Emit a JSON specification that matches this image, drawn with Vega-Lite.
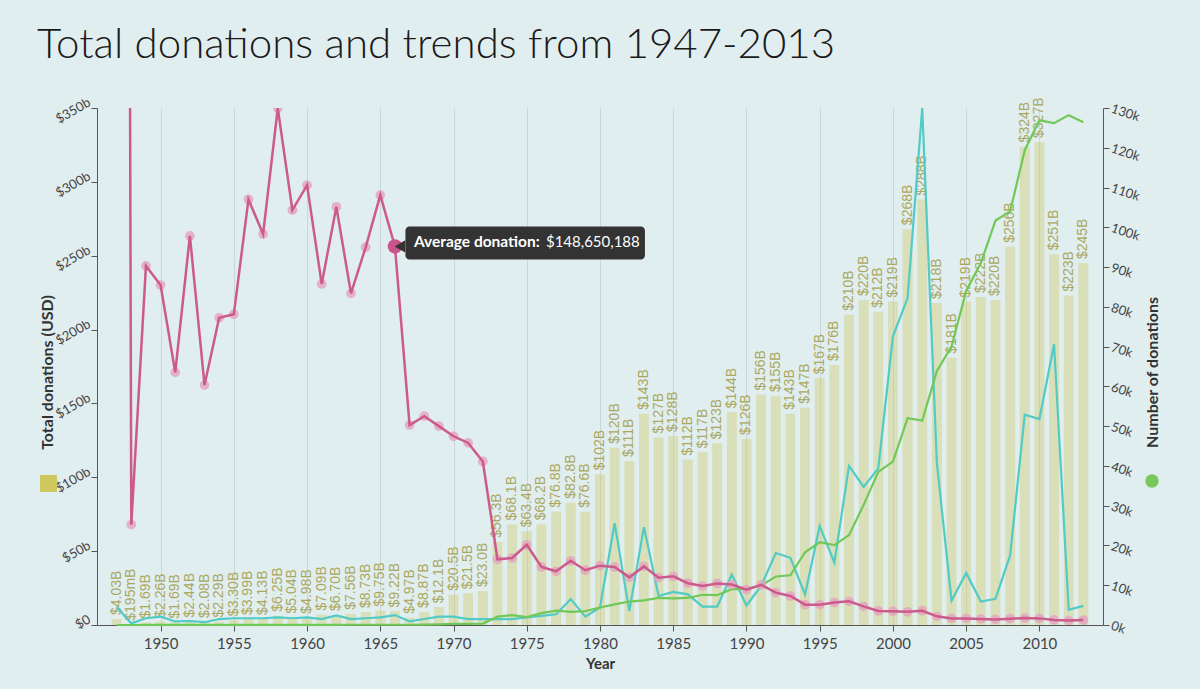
{
  "$schema": "https://vega.github.io/schema/vega-lite/v6.json",
  "description": "Total donations and trends from 1947-2013",
  "width": 1006,
  "height": 517,
  "autosize": {"type": "none"},
  "padding": {"left": 97, "top": 108, "right": 97, "bottom": 64},
  "title": {
    "text": "Total donations and trends from 1947-2013",
    "anchor": "start",
    "frame": "group",
    "dx": -60,
    "dy": 52,
    "offset": 48,
    "baseline": "alphabetic",
    "font": "Lato",
    "fontSize": 42,
    "fontWeight": 300,
    "color": "#1a1a1a"
  },
  "config": {
    "font": "Lato",
    "background": "#e1eef0",
    "view": {"stroke": null}
  },
  "datasets": {
    "years": [
      {"year": 1947, "total": 4.03, "label": "$4.03B", "count": 0.002, "other": 4.6, "avg": 2015},
      {"year": 1948, "total": 0.195, "label": "$195mB", "count": 0.005, "other": 0.4, "avg": 39.4},
      {"year": 1949, "total": 1.69, "label": "$1.69B", "count": 0.012, "other": 1.7, "avg": 141},
      {"year": 1950, "total": 2.26, "label": "$2.26B", "count": 0.017, "other": 2.1, "avg": 133.5},
      {"year": 1951, "total": 1.69, "label": "$1.69B", "count": 0.017, "other": 0.9, "avg": 99.2},
      {"year": 1952, "total": 2.44, "label": "$2.44B", "count": 0.016, "other": 1.0, "avg": 152.8},
      {"year": 1953, "total": 2.08, "label": "$2.08B", "count": 0.022, "other": 0.7, "avg": 94.2},
      {"year": 1954, "total": 2.29, "label": "$2.29B", "count": 0.019, "other": 1.5, "avg": 120.6},
      {"year": 1955, "total": 3.30, "label": "$3.30B", "count": 0.027, "other": 1.7, "avg": 122},
      {"year": 1956, "total": 3.99, "label": "$3.99B", "count": 0.024, "other": 1.7, "avg": 167.1},
      {"year": 1957, "total": 4.13, "label": "$4.13B", "count": 0.027, "other": 1.7, "avg": 153.5},
      {"year": 1958, "total": 6.25, "label": "$6.25B", "count": 0.031, "other": 1.9, "avg": 202.9},
      {"year": 1959, "total": 5.04, "label": "$5.04B", "count": 0.031, "other": 1.7, "avg": 162.9},
      {"year": 1960, "total": 4.98, "label": "$4.98B", "count": 0.029, "other": 1.9, "avg": 172.7},
      {"year": 1961, "total": 7.09, "label": "$7.09B", "count": 0.053, "other": 1.5, "avg": 133.9},
      {"year": 1962, "total": 6.70, "label": "$6.70B", "count": 0.041, "other": 2.4, "avg": 164.2},
      {"year": 1963, "total": 7.56, "label": "$7.56B", "count": 0.058, "other": 1.5, "avg": 130.2},
      {"year": 1964, "total": 8.73, "label": "$8.73B", "count": 0.059, "other": 1.7, "avg": 148.3},
      {"year": 1965, "total": 9.75, "label": "$9.75B", "count": 0.058, "other": 1.9, "avg": 168.8},
      {"year": 1966, "total": 9.22, "label": "$9.22B", "count": 0.062, "other": 2.5, "avg": 148.65},
      {"year": 1967, "total": 4.97, "label": "$4.97B", "count": 0.063, "other": 0.9, "avg": 78.5},
      {"year": 1968, "total": 8.87, "label": "$8.87B", "count": 0.108, "other": 1.5, "avg": 82},
      {"year": 1969, "total": 12.1, "label": "$12.1B", "count": 0.155, "other": 2.1, "avg": 78.1},
      {"year": 1970, "total": 20.5, "label": "$20.5B", "count": 0.277, "other": 2.1, "avg": 74.1},
      {"year": 1971, "total": 21.5, "label": "$21.5B", "count": 0.301, "other": 1.5, "avg": 71.5},
      {"year": 1972, "total": 23.0, "label": "$23.0B", "count": 0.358, "other": 1.5, "avg": 64.2},
      {"year": 1973, "total": 56.3, "label": "$56.3B", "count": 2.1, "other": 1.5, "avg": 25.8},
      {"year": 1974, "total": 68.1, "label": "$68.1B", "count": 2.5, "other": 1.5, "avg": 26.3},
      {"year": 1975, "total": 63.4, "label": "$63.4B", "count": 2.0, "other": 1.9, "avg": 31.5},
      {"year": 1976, "total": 68.2, "label": "$68.2B", "count": 3.0, "other": 2.3, "avg": 22.8},
      {"year": 1977, "total": 76.8, "label": "$76.8B", "count": 3.6, "other": 2.7, "avg": 21.1},
      {"year": 1978, "total": 82.8, "label": "$82.8B", "count": 3.3, "other": 6.5, "avg": 25.2},
      {"year": 1979, "total": 76.6, "label": "$76.6B", "count": 3.5, "other": 2.1, "avg": 21.5},
      {"year": 1980, "total": 102, "label": "$102B", "count": 4.4, "other": 4.4, "avg": 23.3},
      {"year": 1981, "total": 120, "label": "$120B", "count": 5.2, "other": 25.6, "avg": 22.8},
      {"year": 1982, "total": 111, "label": "$111B", "count": 5.9, "other": 3.5, "avg": 18.7},
      {"year": 1983, "total": 143, "label": "$143B", "count": 6.2, "other": 24.6, "avg": 23.0},
      {"year": 1984, "total": 127, "label": "$127B", "count": 6.8, "other": 7.3, "avg": 18.6},
      {"year": 1985, "total": 128, "label": "$128B", "count": 6.7, "other": 8.3, "avg": 19.1},
      {"year": 1986, "total": 112, "label": "$112B", "count": 6.8, "other": 7.7, "avg": 16.4},
      {"year": 1987, "total": 117, "label": "$117B", "count": 7.6, "other": 4.6, "avg": 15.3},
      {"year": 1988, "total": 123, "label": "$123B", "count": 7.5, "other": 4.6, "avg": 16.3},
      {"year": 1989, "total": 144, "label": "$144B", "count": 9.0, "other": 12.7, "avg": 15.9},
      {"year": 1990, "total": 126, "label": "$126B", "count": 9.1, "other": 4.9, "avg": 13.9},
      {"year": 1991, "total": 156, "label": "$156B", "count": 9.9, "other": 9.8, "avg": 15.8},
      {"year": 1992, "total": 155, "label": "$155B", "count": 12.2, "other": 18.1, "avg": 12.7},
      {"year": 1993, "total": 143, "label": "$143B", "count": 12.5, "other": 16.9, "avg": 11.4},
      {"year": 1994, "total": 147, "label": "$147B", "count": 18.3, "other": 7.7, "avg": 8.0},
      {"year": 1995, "total": 167, "label": "$167B", "count": 20.8, "other": 24.9, "avg": 8.0},
      {"year": 1996, "total": 176, "label": "$176B", "count": 20.1, "other": 15.7, "avg": 8.8},
      {"year": 1997, "total": 210, "label": "$210B", "count": 22.6, "other": 40.0, "avg": 9.3},
      {"year": 1998, "total": 220, "label": "$220B", "count": 30.2, "other": 34.7, "avg": 7.3},
      {"year": 1999, "total": 212, "label": "$212B", "count": 38.5, "other": 39.4, "avg": 5.5},
      {"year": 2000, "total": 219, "label": "$219B", "count": 41.1, "other": 72.6, "avg": 5.4},
      {"year": 2001, "total": 268, "label": "$268B", "count": 52.0, "other": 82.2, "avg": 5.2},
      {"year": 2002, "total": 288, "label": "$288B", "count": 51.4, "other": 130.0, "avg": 5.6},
      {"year": 2003, "total": 218, "label": "$218B", "count": 63.9, "other": 40.7, "avg": 3.4},
      {"year": 2004, "total": 181, "label": "$181B", "count": 70.0, "other": 6.1, "avg": 2.6},
      {"year": 2005, "total": 219, "label": "$219B", "count": 84.0, "other": 13.1, "avg": 2.6},
      {"year": 2006, "total": 222, "label": "$222B", "count": 91.0, "other": 5.9, "avg": 2.4},
      {"year": 2007, "total": 220, "label": "$220B", "count": 101.7, "other": 6.6, "avg": 2.2},
      {"year": 2008, "total": 256, "label": "$256B", "count": 104.0, "other": 17.5, "avg": 2.5},
      {"year": 2009, "total": 324, "label": "$324B", "count": 119.4, "other": 52.9, "avg": 2.7},
      {"year": 2010, "total": 327, "label": "$327B", "count": 126.9, "other": 51.8, "avg": 2.6},
      {"year": 2011, "total": 251, "label": "$251B", "count": 126.2, "other": 70.6, "avg": 2.0},
      {"year": 2012, "total": 223, "label": "$223B", "count": 128.2, "other": 3.8, "avg": 1.75},
      {"year": 2013, "total": 245, "label": "$245B", "count": 126.4, "other": 4.8, "avg": 1.94}
    ],
    "tip": [
      {"year": 1966, "avg": 148.65, "name": "Average donation:", "value": "$148,650,188"}
    ]
  },
  "data": {"name": "years"},
  "encoding": {
    "x": {
      "field": "year",
      "type": "quantitative",
      "scale": {"domain": [1946, 2014], "nice": false, "zero": false},
      "axis": {
        "values": [1950, 1955, 1960, 1965, 1970, 1975, 1980, 1985, 1990, 1995, 2000, 2005, 2010],
        "format": "d",
        "labelFontSize": 15,
        "labelColor": "#444444",
        "labelPadding": 5,
        "tickSize": 6,
        "tickColor": "#555555",
        "domainColor": "#555555",
        "grid": true,
        "gridColor": "#cbd6d8",
        "title": "Year",
        "titleFontSize": 15,
        "titleFontWeight": "bold",
        "titleColor": "#333333",
        "titlePadding": 5
      }
    }
  },
  "layer": [
    {
      "mark": {"type": "bar", "size": 10, "opacity": 0.39},
      "encoding": {
        "y": {
          "field": "total",
          "type": "quantitative",
          "scale": {"domain": [0, 350], "nice": false},
          "axis": {
            "orient": "left",
            "values": [0, 50, 100, 150, 200, 250, 300, 350],
            "labelExpr": "datum.value == 0 ? '$0' : '$' + datum.value + 'b'",
            "labelAngle": -30,
            "labelAlign": "right",
            "labelBaseline": "middle",
            "labelOffset": -7,
            "labelFontSize": 13,
            "labelColor": "#444444",
            "tickSize": 6,
            "tickColor": "#555555",
            "domainColor": "#555555",
            "grid": false,
            "title": "Total donations (USD)",
            "titleFontSize": 16,
            "titleFontWeight": "bold",
            "titleColor": "#333333",
            "titleAngle": 270,
            "titleAlign": "center",
            "titleBaseline": "middle",
            "titleX": -50,
            "titleY": 264
          }
        },
        "color": {
          "datum": "Total donations",
          "scale": {"range": ["#cfc85f"]},
          "legend": {
            "orient": "none",
            "legendX": -58,
            "legendY": 366,
            "title": null,
            "padding": 0,
            "symbolType": "square",
            "symbolSize": 289,
            "symbolOpacity": 1,
            "labelExpr": "''"
          }
        }
      }
    },
    {
      "mark": {
        "type": "text",
        "angle": 270,
        "align": "left",
        "baseline": "middle",
        "dx": 4,
        "font": "Liberation Sans",
        "fontSize": 14,
        "color": "#aba85e"
      },
      "encoding": {
        "y": {"field": "total", "type": "quantitative", "scale": {"domain": [0, 350], "nice": false}, "axis": null},
        "text": {"field": "label"}
      }
    },
    {
      "mark": {"type": "line", "color": "#52cac6", "strokeWidth": 2.2},
      "encoding": {
        "y": {"field": "other", "type": "quantitative", "scale": {"domain": [0, 130], "nice": false}, "axis": null}
      }
    },
    {
      "mark": {"type": "line", "strokeWidth": 2.2},
      "encoding": {
        "y": {
          "field": "count",
          "type": "quantitative",
          "scale": {"domain": [0, 130], "nice": false},
          "axis": {
            "orient": "right",
            "values": [0, 10, 20, 30, 40, 50, 60, 70, 80, 90, 100, 110, 120, 130],
            "labelExpr": "datum.value + 'k'",
            "labelAngle": 18,
            "labelAlign": "left",
            "labelBaseline": "middle",
            "labelFontSize": 13,
            "labelColor": "#444444",
            "tickSize": 6,
            "tickColor": "#555555",
            "domainColor": "#555555",
            "grid": false,
            "title": "Number of donations",
            "titleFontSize": 16,
            "titleFontWeight": "bold",
            "titleColor": "#333333",
            "titleAngle": 270,
            "titleAlign": "center",
            "titleBaseline": "middle",
            "titleX": 49,
            "titleY": 264
          }
        },
        "color": {
          "datum": "Number of donations",
          "scale": {"range": ["#70c957"]},
          "legend": {
            "orient": "none",
            "legendX": 1048,
            "legendY": 366,
            "title": null,
            "padding": 0,
            "symbolType": "circle",
            "symbolSize": 180,
            "symbolFillColor": "#78c95a",
            "symbolStrokeWidth": 0,
            "labelExpr": "''"
          }
        }
      }
    },
    {
      "mark": {"type": "point", "filled": true, "size": 95, "color": "#e3a2c0", "opacity": 0.8, "clip": true},
      "encoding": {
        "y": {"field": "avg", "type": "quantitative", "scale": {"domain": [0, 203], "nice": false}, "axis": null}
      }
    },
    {
      "mark": {"type": "line", "color": "#cc5a8b", "strokeWidth": 2.5, "clip": true},
      "encoding": {
        "y": {"field": "avg", "type": "quantitative", "scale": {"domain": [0, 203], "nice": false}, "axis": null}
      }
    },
    {
      "data": {"name": "tip"},
      "encoding": {
        "y": {"field": "avg", "type": "quantitative", "scale": {"domain": [0, 203], "nice": false}, "axis": null}
      },
      "layer": [
        {"mark": {"type": "point", "filled": true, "size": 210, "color": "#c9568a", "opacity": 1}},
        {
          "mark": {"type": "rect", "color": "#333333", "cornerRadius": 4, "xOffset": 10.5, "x2Offset": 250, "yOffset": -20, "y2Offset": 13},
          "encoding": {"x2": {"field": "year"}, "y2": {"field": "avg"}}
        },
        {"mark": {"type": "point", "shape": "triangle-left", "filled": true, "size": 150, "color": "#333333", "opacity": 1, "xOffset": 5}},
        {
          "mark": {"type": "text", "align": "left", "baseline": "middle", "dx": 19, "dy": -4, "fontSize": 15.5, "fontWeight": "bold", "color": "#ffffff"},
          "encoding": {"text": {"field": "name"}}
        },
        {
          "mark": {"type": "text", "align": "left", "baseline": "middle", "dx": 151, "dy": -4, "fontSize": 15, "color": "#ffffff"},
          "encoding": {"text": {"field": "value"}}
        }
      ]
    }
  ],
  "resolve": {
    "scale": {"y": "independent", "color": "independent"},
    "legend": {"color": "independent"}
  }
}
